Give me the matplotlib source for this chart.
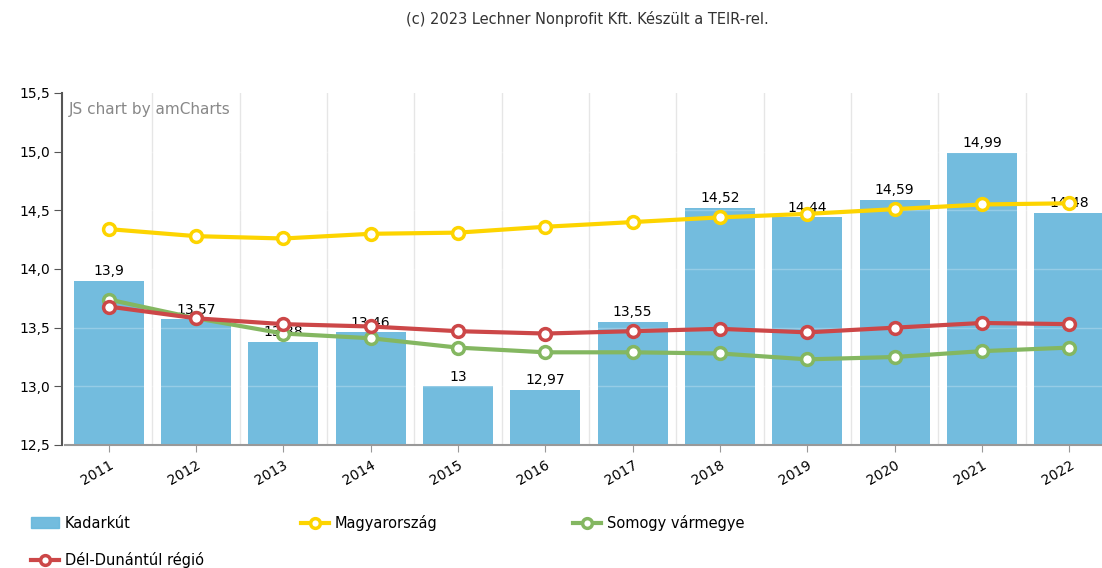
import numpy as np
import matplotlib.pyplot as plt
from matplotlib.lines import Line2D
from matplotlib.patches import Patch

years = ['2011', '2012', '2013', '2014', '2015', '2016', '2017', '2018', '2019', '2020', '2021', '2022']
kadarkut = [13.9, 13.57, 13.38, 13.46, 13.0, 12.97, 13.55, 14.52, 14.44, 14.59, 14.99, 14.48]
magyarorszag = [14.34, 14.28, 14.26, 14.30, 14.31, 14.36, 14.40, 14.44, 14.47, 14.51, 14.55, 14.56]
somogy = [13.74, 13.58, 13.45, 13.41, 13.33, 13.29, 13.29, 13.28, 13.23, 13.25, 13.30, 13.33]
del_dunantul = [13.68, 13.58, 13.53, 13.51, 13.47, 13.45, 13.47, 13.49, 13.46, 13.50, 13.54, 13.53]

c_bar = '#67b7dc'
c_yel = '#fdd400'
c_grn = '#84b761'
c_red = '#cc4748'

plt.rcParams['font.family'] = ['DejaVu Sans']

fig = plt.figure(figsize=(11.02, 5.68), dpi=100)
ax = fig.add_axes([65 / 1102, 1 - 445 / 568, 1048 / 1102, 352 / 568])

x = np.arange(len(years))
ax.bar(x, kadarkut, width=0.8, color=c_bar, alpha=0.92, zorder=2)

for xi, v in zip(x, kadarkut):
    lab = ('%g' % v).replace('.', ',')
    ax.annotate(lab, (xi, v), xytext=(0, 2), textcoords='offset points',
                ha='center', va='bottom', fontsize=10, color='#000000', zorder=3)

def line(vals, col, z):
    ax.plot(x, vals, color=col, lw=3, marker='o', ms=8.5, mfc='white',
            mec=col, mew=2.5, zorder=z)

line(somogy, c_grn, 4)
line(del_dunantul, c_red, 5)
line(magyarorszag, c_yel, 6)

ax.set_xlim(-0.5, len(years) - 0.5)
ax.set_ylim(12.5, 15.5)
ax.set_yticks([12.5, 13.0, 13.5, 14.0, 14.5, 15.0, 15.5])
ax.set_yticklabels([('%.1f' % t).replace('.', ',') for t in ax.get_yticks()], fontsize=10.5)
ax.set_xticks(x)
ax.set_xticklabels(years, rotation=30, ha='right', fontsize=10, rotation_mode='anchor')
ax.tick_params(axis='x', length=5, color='#999999', pad=4)
ax.tick_params(axis='y', length=6, color='#555555', pad=3)

# grid: vertical between categories, horizontal faint over bars
for b in np.arange(0.5, len(years) - 0.5, 1):
    ax.axvline(b, color='#e6e6e6', lw=1, zorder=1)
for t in [13.0, 13.5, 14.0, 14.5, 15.0]:
    ax.axhline(t, color='white', lw=1, alpha=0.25, zorder=2.5)

for s in ['top', 'right']:
    ax.spines[s].set_visible(False)
ax.spines['left'].set_color('#555555')
ax.spines['left'].set_linewidth(1.5)
ax.spines['left'].set_position(('outward', 2))
ax.spines['bottom'].set_color('#999999')
ax.spines['bottom'].set_linewidth(1.5)

ax.text(0.004, 0.975, 'JS chart by amCharts', transform=ax.transAxes,
        ha='left', va='top', fontsize=11, color='#888888')

fig.text(587 / 1102, 1 - 19 / 568, '(c) 2023 Lechner Nonprofit Kft. Készült a TEIR-rel.',
         ha='center', va='center', fontsize=10.5, color='#333333')

# legend
entries = [
    (Patch(color=c_bar, alpha=0.92), 'Kadarkút', 31, 523),
    (Line2D([], [], color=c_yel, lw=3, marker='o', ms=7, mfc='white', mec=c_yel, mew=2.5), 'Magyarország', 301, 523),
    (Line2D([], [], color=c_grn, lw=3, marker='o', ms=7, mfc='white', mec=c_grn, mew=2.5), 'Somogy vármegye', 573, 523),
    (Line2D([], [], color=c_red, lw=3, marker='o', ms=7, mfc='white', mec=c_red, mew=2.5), 'Dél-Dunántúl régió', 31, 560),
]
for h, lab, px, py in entries:
    fig.legend([h], [lab], loc='center left', bbox_to_anchor=(px / 1102, 1 - py / 568),
               frameon=False, fontsize=10.5, handlelength=1.9, handletextpad=0.4,
               borderaxespad=0, borderpad=0)

fig.savefig('out.png', dpi=100)
